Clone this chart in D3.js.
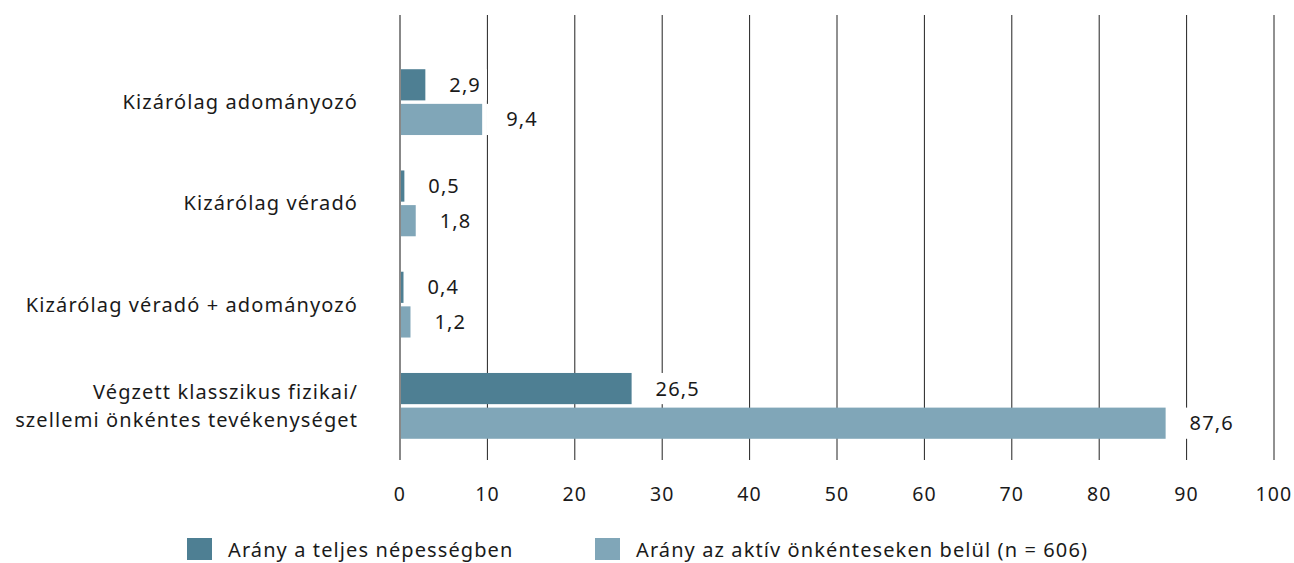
<!DOCTYPE html>
<html>
<head>
<meta charset="utf-8">
<script src="https://cdn.jsdelivr.net/npm/d3@7"></script>
<style>
  body { margin: 0; background: #fff; }
  svg text { font-family: "Noto Sans", sans-serif; fill: #1a1a1a; letter-spacing: 1.1px; }
</style>
</head>
<body>
<div id="chart"></div>
<script>
// Data
const categories = [
    "Kizárólag adományozó",
    "Kizárólag véradó",
    "Kizárólag véradó + adományozó",
    "Végzett klasszikus fizikai/\nszellemi önkéntes tevékenységet"
];
const seriesNames = ["Arány a teljes népességben", "Arány az aktív önkénteseken belül (n = 606)"];
const totalPop = [2.9, 0.5, 0.4, 26.5];
const activeVol = [9.4, 1.8, 1.2, 87.6];
const xTicks = [0, 10, 20, 30, 40, 50, 60, 70, 80, 90, 100];
const colors = ["#4e7f93", "#80a6b8"];

const width = 1294, height = 563;
const svg = d3.select("#chart").append("svg")
    .attr("width", width)
    .attr("height", height);

// Scales
const x = d3.scaleLinear().domain([0, 100]).range([400, 1274]);
const y = d3.scaleBand().domain(categories).range([51.5, 456.5])
    .paddingInner(0.35).paddingOuter(0.175);
const ySub = d3.scaleBand().domain([0, 1]).range([0, y.bandwidth()]).paddingInner(0.1);

const gridTop = 15, gridBottom = 460;

// Gridlines
svg.append("g").selectAll("line")
    .data(xTicks.filter(d => d > 0))
    .join("line")
    .attr("x1", d => x(d)).attr("x2", d => x(d))
    .attr("y1", gridTop).attr("y2", gridBottom)
    .attr("stroke", "#222")
    .attr("stroke-width", 1);

// Tick labels
svg.append("g").selectAll("text")
    .data(xTicks)
    .join("text")
    .attr("x", d => x(d))
    .attr("y", 501)
    .attr("text-anchor", "middle")
    .style("font-size", "19.5px")
    .text(d => d);

// Bars
const rows = categories.map((c, i) => ({ cat: c, vals: [totalPop[i], activeVol[i]] }));
const groups = svg.append("g").selectAll("g")
    .data(rows)
    .join("g")
    .attr("transform", d => `translate(0,${y(d.cat)})`);

const items = groups.selectAll("g")
    .data(d => d.vals.map((v, k) => ({ v, k })))
    .join("g");

const fmt = v => String(v).replace(".", ",");
const labelSize = 20;

items.each(function(d) {
    const g = d3.select(this);
    const top = ySub(d.k);
    const end = x(d.v);
    const label = g.append("text")
        .attr("x", end + 24)
        .attr("y", top + ySub.bandwidth() / 2 + 7)
        .style("font-size", labelSize + "px")
        .text(fmt(d.v));
    const w = label.node().getComputedTextLength();
    // white box behind the label hides the gridlines
    g.insert("rect", "text")
        .attr("x", end + 4)
        .attr("y", top)
        .attr("width", w + 26)
        .attr("height", ySub.bandwidth())
        .attr("fill", "#fff");
    g.insert("rect", "text")
        .attr("x", x(0))
        .attr("y", top)
        .attr("width", end - x(0))
        .attr("height", ySub.bandwidth())
        .attr("fill", colors[d.k]);
});

// Zero axis line
svg.append("line")
    .attr("x1", x(0)).attr("x2", x(0))
    .attr("y1", gridTop).attr("y2", gridBottom)
    .attr("stroke", "#888")
    .attr("stroke-width", 2);

// Category labels
svg.append("g").selectAll("text")
    .data(categories)
    .join("text")
    .attr("text-anchor", "end")
    .style("font-size", "20px")
    .each(function(d) {
        const lines = d.split("\n");
        const cy = y(d) + y.bandwidth() / 2;
        const lh = 28;
        const t = d3.select(this);
        lines.forEach((ln, i) => {
            t.append("tspan")
                .attr("x", 358)
                .attr("y", cy + 7 + (i - (lines.length - 1) / 2) * lh)
                .text(ln);
        });
    });

// Legend
const legendX = [187, 595];
const legend = svg.append("g").selectAll("g")
    .data(seriesNames)
    .join("g")
    .attr("transform", (d, i) => `translate(${legendX[i]},538)`);
legend.append("rect")
    .attr("width", 25).attr("height", 22)
    .attr("fill", (d, i) => colors[i]);
legend.append("text")
    .attr("x", 41).attr("y", 19)
    .style("font-size", "20px")
    .text(d => d);
</script>
</body>
</html>
